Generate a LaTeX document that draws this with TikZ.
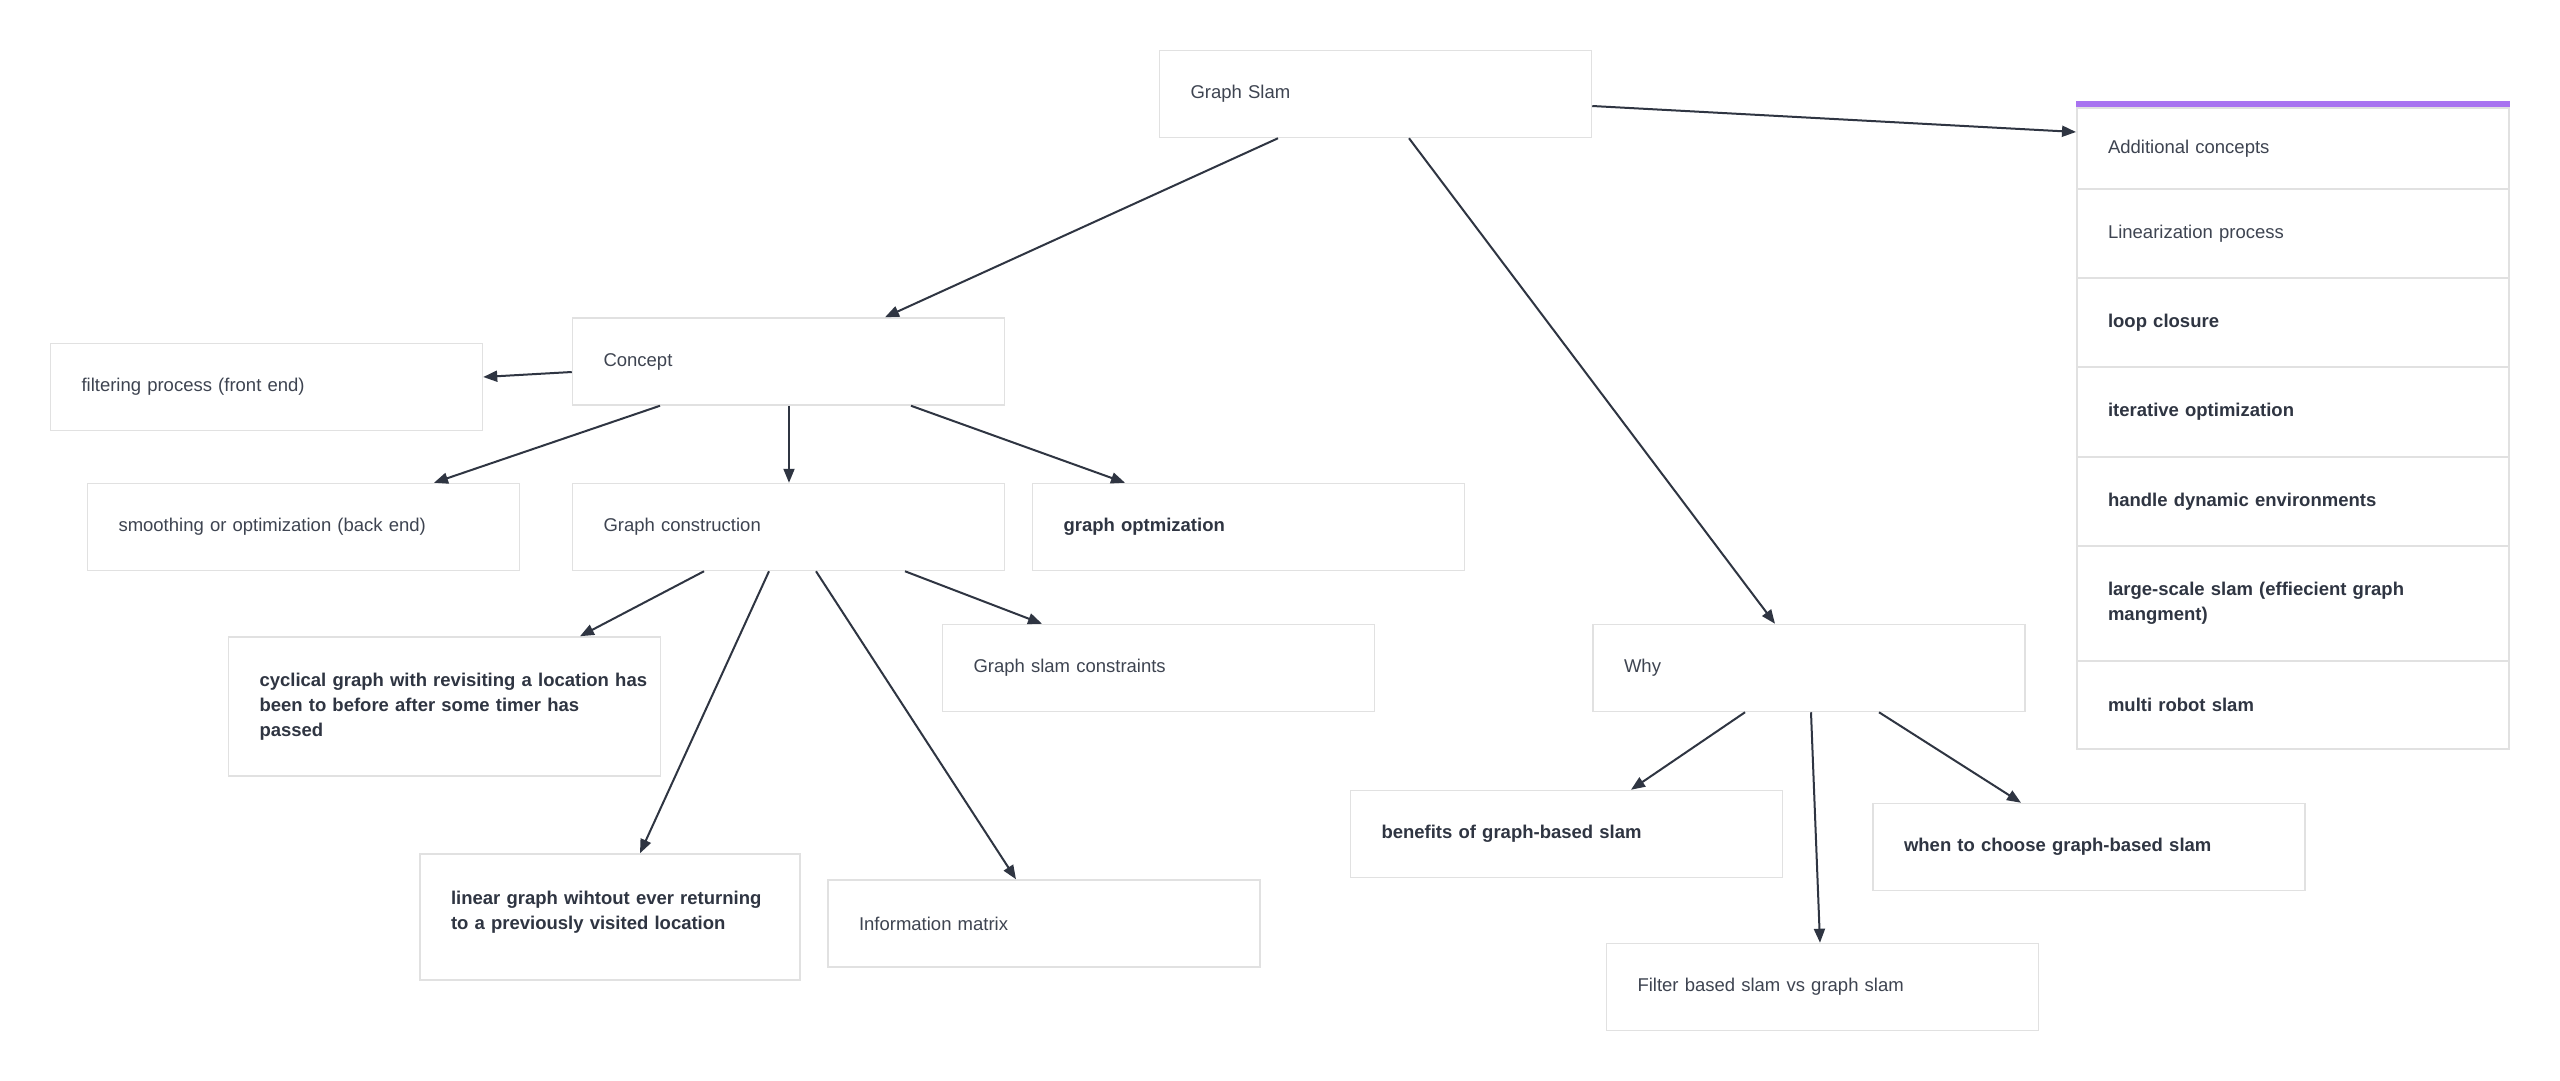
\documentclass[tikz,border=0pt]{standalone}
\usepackage{fontspec}
\setmainfont{Liberation Sans}
\usetikzlibrary{arrows.meta}

\definecolor{ink}{HTML}{2F3542}
\definecolor{txt}{HTML}{3E4451}
\definecolor{edgegray}{HTML}{E1E1E1}
\definecolor{accent}{HTML}{A873F0}

\tikzset{
  card/.style={draw=edgegray, line width=1.5pt, fill=white, rectangle,
    inner xsep=31pt, inner ysep=0pt, align=left, text=txt,
    font=\fontsize{18.5}{25}\selectfont,
    minimum height=87pt, text width=370pt},
  strong/.style={font=\fontsize{18.5}{25}\selectfont\bfseries, text=ink},
  row/.style={card, line width=2pt},
  link/.style={draw=ink, line width=2pt, -{Triangle[length=14pt,width=11pt]}},
}
% a line of fixed width that never wraps
\newcommand{\fullline}[1]{\makebox[370pt][l]{#1}}

\begin{document}
\begin{tikzpicture}[x=1pt, y=-1pt]
  \useasboundingbox (0,0) rectangle (2560,1080);
  \fill[white] (0,0) rectangle (2560,1080);

  % main tree
  \node[card] (gs) at (1375.5,94) {Graph Slam};
  \node[card] (concept) at (788.5,361.5) {Concept};
  \node[card] (filter) at (266.5,387) {filtering process (front end)};
  \node[card] (smooth) at (303.5,527) {smoothing or optimization (back end)};
  \node[card] (gc) at (788.5,527) {Graph construction};
  \node[card,strong] (gopt) at (1248.5,527) {graph optmization};
  \node[card,strong,minimum height=139pt] (cyc) at (444.5,706.5)
    {\fullline{cyclical graph with revisiting a location has}\\been to before after some timer has\\passed};
  \node[card] (cons) at (1158.5,668) {Graph slam constraints};
  \node[card,strong,text width=318pt,minimum height=126pt] (lin) at (610,917)
    {linear graph wihtout ever returning\\to a previously visited location\\[-11pt]\mbox{}};
  \node[card] (info) at (1044,923.5) {Information matrix};
  \node[card] (why) at (1809,668) {Why};
  \node[card,strong] (ben) at (1566.5,834) {benefits of graph-based slam};
  \node[card,strong] (when) at (2089,847) {when to choose graph-based slam};
  \node[card] (fbs) at (1822.5,987) {Filter based slam vs graph slam};

  % stacked list of additional concepts
  \node[row,minimum height=81pt] (r1) at (2293,148.5) {Additional concepts};
  \node[row,minimum height=89pt] (r2) at (2293,233.5) {Linearization process};
  \node[row,strong,minimum height=89pt] (r3) at (2293,322.5) {loop closure};
  \node[row,strong,minimum height=90pt] (r4) at (2293,412) {iterative optimization};
  \node[row,strong,minimum height=89pt] (r5) at (2293,501.5) {handle dynamic environments};
  \node[row,strong,minimum height=115pt] (r6) at (2293,603.5)
    {large-scale slam (effiecient graph\\mangment)};
  \node[row,strong,minimum height=88pt] (r7) at (2293,705) {multi robot slam};
  \fill[accent] (r1.north west) rectangle ([yshift=6pt]r1.north east);

  % connectors
  \draw[link] (gs.south -| 1278,0) -- (concept.north -| 885,0);
  \draw[link] (gs.south -| 1409,0) -- (why.north -| 1775,0);
  \draw[link] (gs.east |- 0,106) -- (r1.west |- 0,132);

  \draw[link] (concept.west |- 0,372) -- (filter.east |- 0,377);
  \draw[link] (concept.south -| 660,0) -- (smooth.north -| 434,0);
  \draw[link] (concept.south -| 789,0) -- (gc.north -| 789,0);
  \draw[link] (concept.south -| 911,0) -- (gopt.north -| 1125,0);

  \draw[link] (gc.south -| 704,0) -- (cyc.north -| 580,0);
  \draw[link] (gc.south -| 769,0) -- (lin.north -| 640,0);
  \draw[link] (gc.south -| 816,0) -- (info.north -| 1016,0);
  \draw[link] (gc.south -| 905,0) -- (cons.north -| 1042,0);

  \draw[link] (why.south -| 1745,0) -- (ben.north -| 1631,0);
  \draw[link] (why.south -| 1811,0) -- (fbs.north -| 1820,0);
  \draw[link] (why.south -| 1879,0) -- (when.north -| 2021,0);
\end{tikzpicture}
\end{document}
